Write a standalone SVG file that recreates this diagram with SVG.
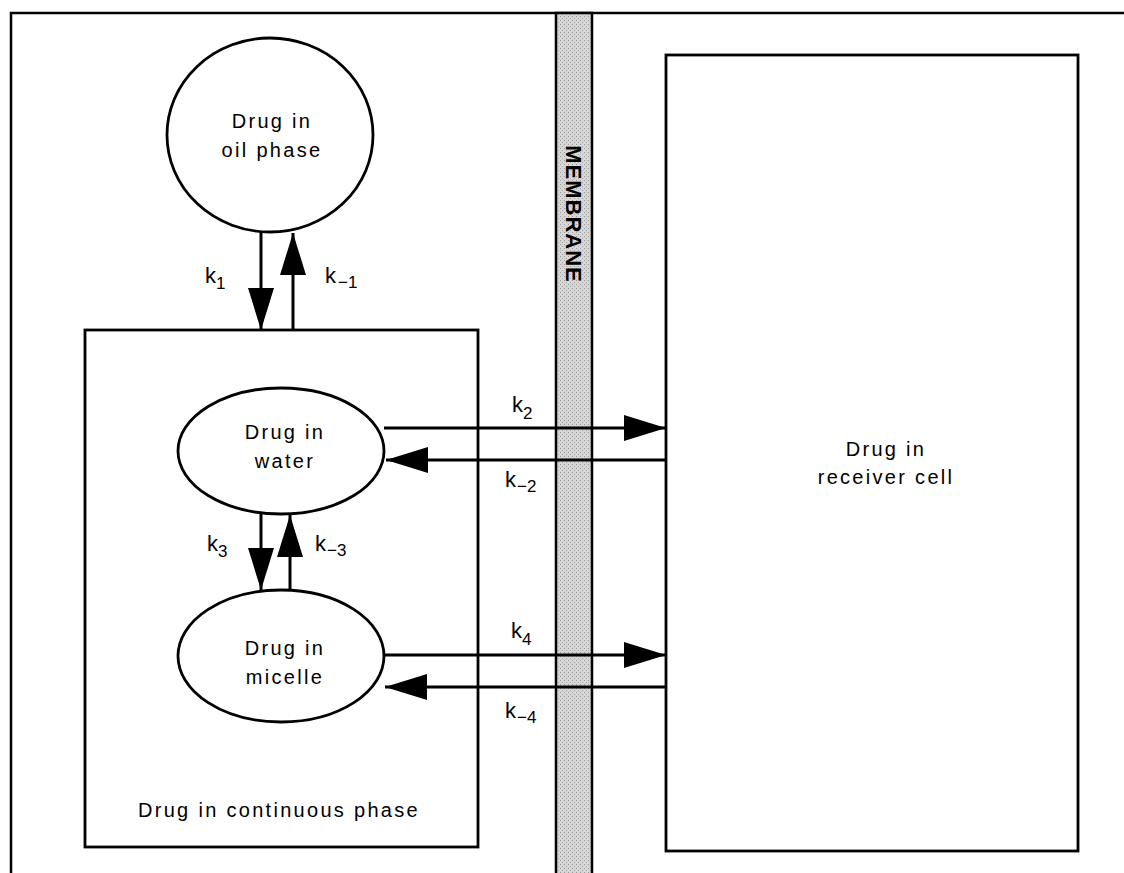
<svg xmlns="http://www.w3.org/2000/svg" width="1124" height="873" viewBox="0 0 1124 873">
  <style>
    .t { font-family: "Liberation Sans", Arial, sans-serif; font-size: 20px; letter-spacing: 2.3px; fill: #000; }
    .k { font-family: "Liberation Sans", Arial, sans-serif; font-size: 22px; fill: #000; }
    .sub { font-size: 17px; }
    .box { fill: none; stroke: #000; stroke-width: 2.8; }
    .node { fill: #fff; stroke: #000; stroke-width: 2.8; }
    .arr { fill: none; stroke: #000; stroke-width: 3; marker-end: url(#ah); }
  </style>
  <defs>
    <marker id="ah" markerUnits="userSpaceOnUse" markerWidth="44" markerHeight="28" refX="42" refY="13" orient="auto">
      <path d="M0,0 L42,13 L0,26 z" fill="#000"/>
    </marker>
    <pattern id="stip" width="4" height="4" patternUnits="userSpaceOnUse">
      <rect width="4" height="4" fill="#d6d6d6"/>
      <rect x="0" y="0" width="1" height="1" fill="#9a9a9a"/>
      <rect x="2" y="2" width="1" height="1" fill="#a8a8a8"/>
    </pattern>
  </defs>
  <rect width="1124" height="873" fill="#fff"/>

  <g id="frame">
    <path d="M11,873 V13 H1124" fill="none" stroke="#000" stroke-width="2.5"/>
  </g>

  <g id="membrane">
    <rect x="556" y="13" width="36" height="862" fill="url(#stip)" stroke="#000" stroke-width="2.5"/>
    <text class="t" transform="translate(574,214) rotate(90)" text-anchor="middle" y="8" style="font-weight:bold;font-size:22px;letter-spacing:1px">MEMBRANE</text>
  </g>

  <g id="continuous-phase">
    <rect class="box" x="85" y="330" width="393" height="517"/>
    <text class="t" x="279" y="817" text-anchor="middle">Drug in continuous phase</text>
  </g>

  <g id="receiver-cell">
    <rect class="box" x="666" y="55" width="412" height="796"/>
    <text class="t" x="886" y="456" text-anchor="middle">Drug in</text>
    <text class="t" x="886" y="484" text-anchor="middle">receiver cell</text>
  </g>

  <g id="connectors">
    <line class="arr" x1="261" y1="232" x2="261" y2="330"/>
    <line class="arr" x1="293" y1="330" x2="293" y2="233"/>
    <line class="arr" x1="261" y1="514" x2="261" y2="590"/>
    <line class="arr" x1="290" y1="590" x2="290" y2="515"/>
    <line class="arr" x1="384" y1="428" x2="666" y2="428"/>
    <line class="arr" x1="666" y1="460" x2="386" y2="460"/>
    <line class="arr" x1="384" y1="655" x2="666" y2="655"/>
    <line class="arr" x1="666" y1="687" x2="385" y2="687"/>
    <text class="k" x="205" y="283">k<tspan class="sub" dy="6">1</tspan></text>
    <text class="k" x="325" y="283">k<tspan class="sub" dy="5" dx="2">−1</tspan></text>
    <text class="k" x="512" y="412">k<tspan class="sub" dy="7">2</tspan></text>
    <text class="k" x="505" y="487">k<tspan class="sub" dy="5" dx="1">−2</tspan></text>
    <text class="k" x="207" y="551">k<tspan class="sub" dy="6">3</tspan></text>
    <text class="k" x="315" y="551">k<tspan class="sub" dy="5" dx="1">−3</tspan></text>
    <text class="k" x="511" y="638">k<tspan class="sub" dy="7">4</tspan></text>
    <text class="k" x="505" y="718">k<tspan class="sub" dy="5" dx="1">−4</tspan></text>
  </g>

  <g id="oil-phase">
    <ellipse class="node" cx="270" cy="135" rx="103" ry="97"/>
    <text class="t" x="272" y="128" text-anchor="middle">Drug in</text>
    <text class="t" x="272" y="157" text-anchor="middle">oil phase</text>
  </g>

  <g id="water">
    <ellipse class="node" cx="281" cy="451" rx="103" ry="63"/>
    <text class="t" x="285" y="439" text-anchor="middle">Drug in</text>
    <text class="t" x="285" y="468" text-anchor="middle">water</text>
  </g>

  <g id="micelle">
    <ellipse class="node" cx="281" cy="656" rx="103" ry="66"/>
    <text class="t" x="285" y="655" text-anchor="middle">Drug in</text>
    <text class="t" x="285" y="684" text-anchor="middle">micelle</text>
  </g>
</svg>
